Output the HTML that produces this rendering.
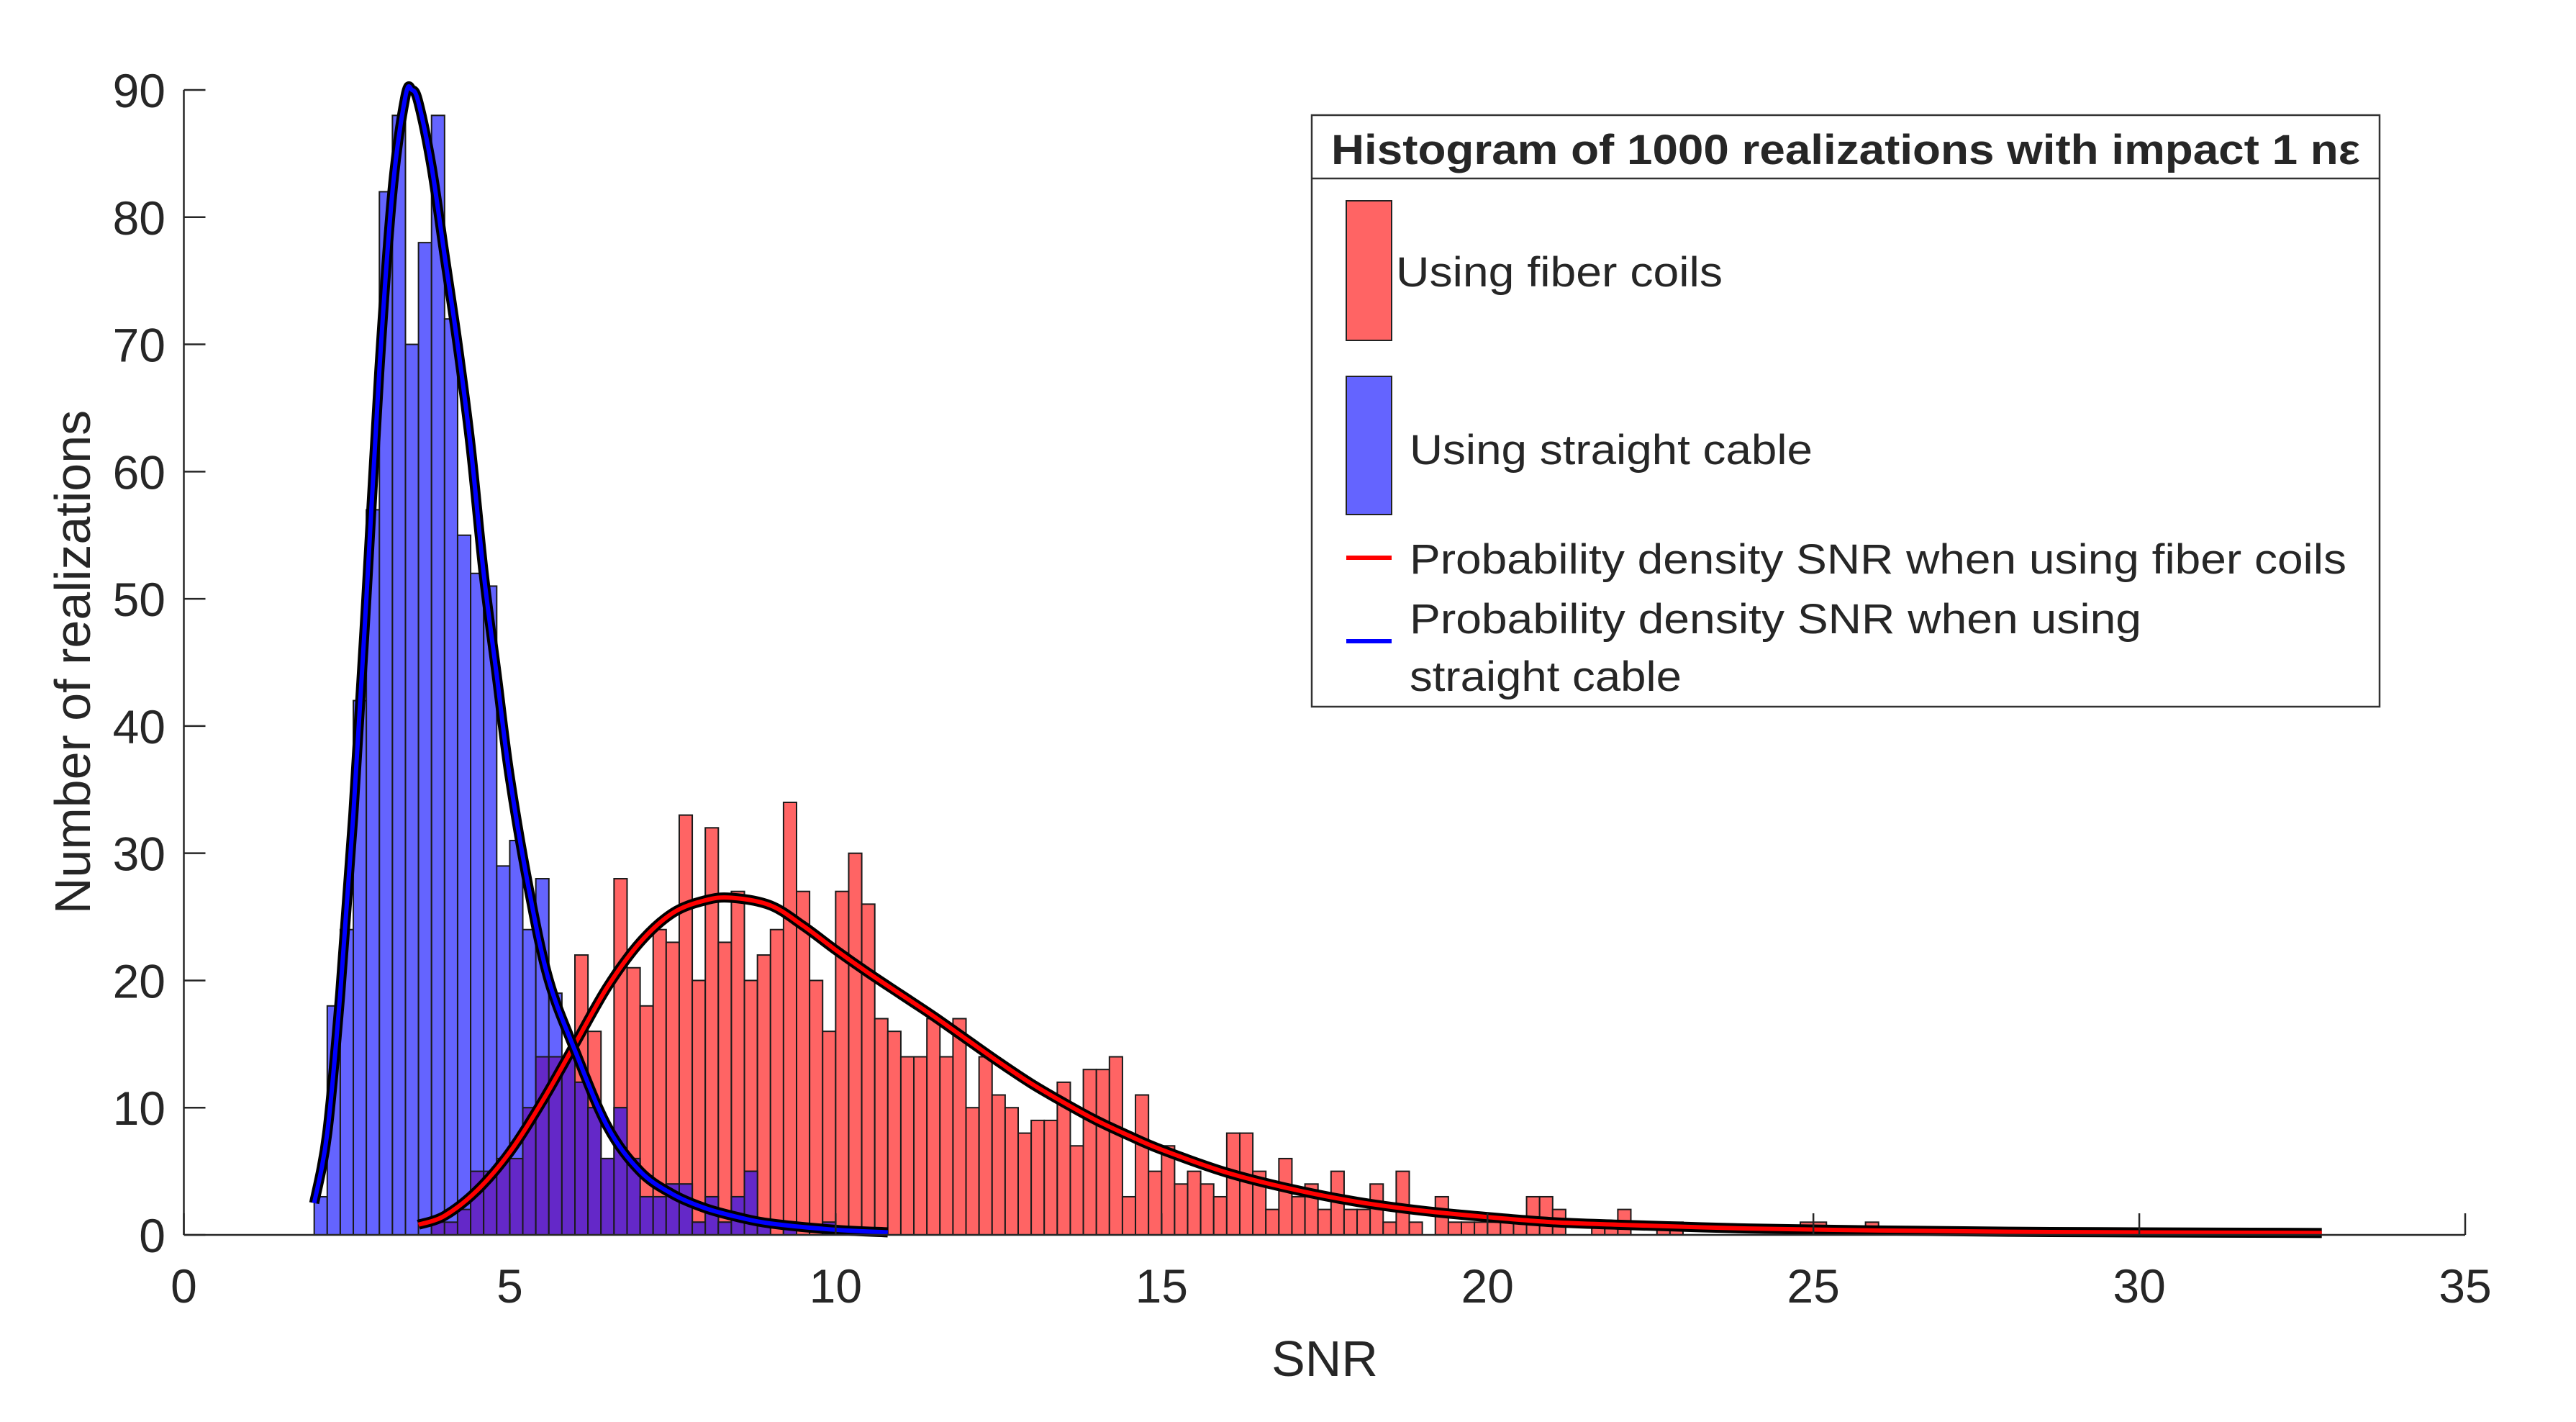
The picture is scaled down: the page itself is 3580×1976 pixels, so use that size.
<!DOCTYPE html>
<html><head><meta charset="utf-8"><title>SNR histogram</title>
<style>html,body{margin:0;padding:0;background:#fff;}svg{display:block;}text{font-family:"Liberation Sans",Arial,sans-serif;fill:#262626;}</style>
</head><body>
<svg id="chart" xmlns="http://www.w3.org/2000/svg" width="3580" height="1976" viewBox="0 0 3580 1976">
<g id="bars"></g>
<g id="curves"></g>
<g id="axes"></g>
<text x="1841" y="1912" font-size="70" text-anchor="middle">SNR</text>
<text transform="translate(125,920) rotate(-90)" font-size="70" text-anchor="middle">Number of realizations</text>
<g>
<rect x="1823" y="160" width="1484" height="822" fill="#fff" stroke="#333" stroke-width="2.5"/>
<line x1="1823" y1="248" x2="3307" y2="248" stroke="#333" stroke-width="2.5"/>
<text x="1850" y="228" font-size="58" font-weight="bold" fill="#000" textLength="1430" lengthAdjust="spacingAndGlyphs">Histogram of 1000 realizations with impact 1 nε</text>
<rect x="1871" y="279" width="63" height="194" fill="#ff6464" stroke="#222" stroke-width="2"/>
<text x="1940" y="398" font-size="58" fill="#000" textLength="454" lengthAdjust="spacingAndGlyphs">Using fiber coils</text>
<rect x="1871" y="523" width="63" height="192" fill="#6464ff" stroke="#222" stroke-width="2"/>
<text x="1959" y="645" font-size="58" fill="#000" textLength="560" lengthAdjust="spacingAndGlyphs">Using straight cable</text>
<line x1="1871" y1="775" x2="1934" y2="775" stroke="#ff0000" stroke-width="6"/>
<text x="1959" y="797" font-size="58" fill="#000" textLength="1302" lengthAdjust="spacingAndGlyphs">Probability density SNR when using fiber coils</text>
<line x1="1871" y1="891" x2="1934" y2="891" stroke="#0000ff" stroke-width="6"/>
<text x="1959" y="880" font-size="58" fill="#000" textLength="1017" lengthAdjust="spacingAndGlyphs">Probability density SNR when using</text>
<text x="1959" y="960" font-size="58" fill="#000" textLength="378" lengthAdjust="spacingAndGlyphs">straight cable</text>
</g>
</svg>
<script>
const binWidth = 0.2;
const blueStart = 2.0;
const redStart = 3.6;
const blueCounts = [3,18,24,42,57,82,88,70,78,88,72,55,52,51,29,31,24,28,19,14,12,10,6,10,6,3,3,4,4,1,3,1,3,5,1,0,1,0,0,1,0,0,0,0,0];
const redCounts = [0,1,1,2,5,5,6,6,10,14,14,14,22,
16,6,28,21,18,24,23,33,20,32,23,27,20,22,24,34,27,20,16,27,30,26,17,16,14,14,17,14,17,10,14,11,10,8,9,9,12,7,13,13,14,3,11,5,7,4,5,4,3,8,8,5,2,6,3,4,2,5,2,2,4,1,5,1,0,
3,1,1,1,1,1,1,3,3,2,0,0,1,1,2,0,0,1,1,0,0,0,0,0,0,0,0,0,1,1,0,0,0,1,
0,0,0,0,0,0,0,0,0,0,0,0,0,0,0,0,0,0,0,0,0,0,0,0,0,0,0,0,0,0,0,0,0,0];
const blueCurveX = [2.0,2.2,2.4,2.6,2.8,3.0,3.2,3.4,3.5,3.6,3.8,4.0,4.2,4.4,4.6,4.8,5.0,5.3,5.6,6.0,6.5,7.0,7.5,8.0,8.5,9.0,10.0,10.8];
const blueCurveY = [2.5,8,19,33,50,68,82,89.5,90,89,84,77,70,62,52,44,36,27,20,14.5,8.5,5,3.2,2.1,1.4,0.9,0.4,0.2];
const redCurveX = [3.6,4.0,4.5,5.0,5.5,6.0,6.5,7.0,7.5,8.0,8.4,9.0,9.5,10.0,10.5,11.0,11.5,12.0,12.5,13.0,13.5,14.0,14.5,15.0,16.0,17.0,18.0,19.0,20.0,21.0,22.0,24.0,26.0,28.0,30.0,32.8];
const redCurveY = [0.8,1.5,3.5,6.5,10.5,15,19.5,23,25.3,26.3,26.5,25.9,24.3,22.4,20.6,18.9,17.2,15.4,13.6,11.9,10.4,9.0,7.8,6.7,4.9,3.6,2.6,1.9,1.4,1.0,0.8,0.5,0.35,0.25,0.2,0.15];
const xTicks = [0,5,10,15,20,25,30,35];
const yTicks = [0,10,20,30,40,50,60,70,80,90];

const NS = 'http://www.w3.org/2000/svg';
const X0 = 255.5, X1 = 3426, Y0 = 1716, Y1 = 125;
function xs(v){ return X0 + v * (X1 - X0) / 35; }
function ys(v){ return Y0 - v * (Y0 - Y1) / 90; }
function mk(tag, attrs, parent){ const e = document.createElementNS(NS, tag); for (const k in attrs) e.setAttribute(k, attrs[k]); parent.appendChild(e); return e; }

const bars = document.getElementById('bars');
function countAt(arr, start, x){ const i = Math.round((x - start) / binWidth); return (i >= 0 && i < arr.length) ? arr[i] : 0; }
redCounts.forEach((c, i) => {
  if (c <= 0) return;
  const x = redStart + i * binWidth;
  const r = mk('rect', {x: xs(x), y: ys(c), width: xs(x + binWidth) - xs(x), height: ys(0) - ys(c), fill: '#ff6464', stroke: '#1a1a1a', 'stroke-width': 2}, bars);
  
  
});
blueCounts.forEach((c, i) => {
  if (c <= 0) return;
  const x = blueStart + i * binWidth;
  const r = mk('rect', {x: xs(x), y: ys(c), width: xs(x + binWidth) - xs(x), height: ys(0) - ys(c), fill: '#6464ff', stroke: '#1a1a1a', 'stroke-width': 2}, bars);
  
  
  const rc = countAt(redCounts, redStart, x);
  const m = Math.min(c, rc);
  if (m > 0) {
    const o = mk('rect', {x: xs(x), y: ys(m), width: xs(x + binWidth) - xs(x), height: ys(0) - ys(m), fill: '#6428c8', stroke: '#1a1a1a', 'stroke-width': 2}, bars);
    
    
  }
});

function smoothPath(px, py){
  const p = px.map((v, i) => [xs(v), ys(py[i])]);
  let d = 'M' + p[0][0] + ',' + p[0][1];
  for (let i = 0; i < p.length - 1; i++) {
    const a = p[Math.max(0, i - 1)], b = p[i], c = p[i + 1], e = p[Math.min(p.length - 1, i + 2)];
    const c1 = [b[0] + (c[0] - a[0]) / 6, b[1] + (c[1] - a[1]) / 6];
    const c2 = [c[0] - (e[0] - b[0]) / 6, c[1] - (e[1] - b[1]) / 6];
    d += ' C' + c1[0] + ',' + c1[1] + ' ' + c2[0] + ',' + c2[1] + ' ' + c[0] + ',' + c[1];
  }
  return d;
}
const curves = document.getElementById('curves');
[[redCurveX, redCurveY, '#ff0000', 'fiber-coils'], [blueCurveX, blueCurveY, '#0000ff', 'straight-cable']].forEach(s => {
  const d = smoothPath(s[0], s[1]);
  const o = mk('path', {d: d, fill: 'none', stroke: '#000', 'stroke-width': 14, 'stroke-linejoin': 'round'}, curves);
  
  
  const l = mk('path', {d: d, fill: 'none', stroke: s[2], 'stroke-width': 6, 'stroke-linejoin': 'round'}, curves);
  
  
});

const axes = document.getElementById('axes');
const xa = mk('line', {x1: X0, y1: Y0, x2: X1, y2: Y0, stroke: '#262626', 'stroke-width': 2.5}, axes);


const ya = mk('line', {x1: X0, y1: Y0, x2: X0, y2: Y1, stroke: '#262626', 'stroke-width': 2.5}, axes);


xTicks.forEach(t => {
  const tk = mk('line', {x1: xs(t), y1: Y0, x2: xs(t), y2: Y0 - 30, stroke: '#262626', 'stroke-width': 2.5}, axes);
  
  
  const tx = mk('text', {x: xs(t), y: 1810, 'font-size': 66, 'text-anchor': 'middle'}, axes);
  tx.textContent = t;
  
  
});
yTicks.forEach(t => {
  const tk = mk('line', {x1: X0, y1: ys(t), x2: X0 + 30, y2: ys(t), stroke: '#262626', 'stroke-width': 2.5}, axes);
  
  
  const tx = mk('text', {x: 230, y: ys(t) + 24, 'font-size': 66, 'text-anchor': 'end'}, axes);
  tx.textContent = t;
  
  
});
</script>
</body></html>
